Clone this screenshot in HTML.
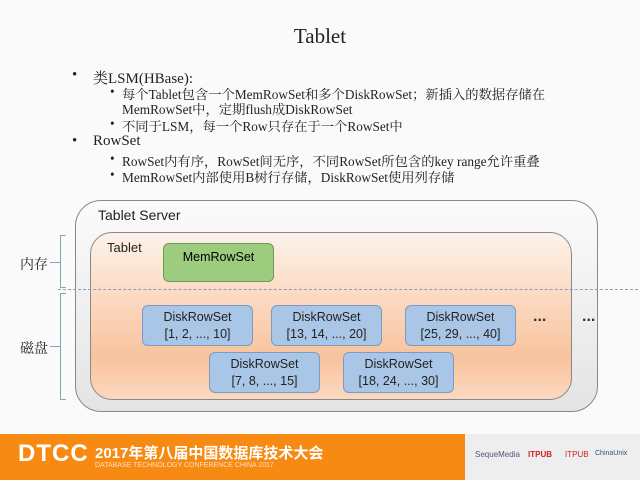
<!DOCTYPE html>
<html><head><meta charset="utf-8"><style>
body{margin:0;width:640px;height:480px;position:relative;overflow:hidden;background:#fafafa;font-family:"Liberation Serif","Noto Serif CJK SC",serif;}
.a{position:absolute;white-space:nowrap;color:#222;}
.l1{font-size:15px;}
.l2{font-size:13.3px;}
.s{font-family:"Liberation Sans","Noto Sans CJK SC",sans-serif;}
.box{position:absolute;box-sizing:border-box;}
.d{position:absolute;box-sizing:border-box;background:#a9c6e6;border:1px solid #7a9cc4;border-radius:6px;width:111px;height:41px;font-family:"Liberation Sans",sans-serif;font-size:12.5px;text-align:center;line-height:17px;padding-top:3px;color:#222;}
</style></head><body>
<div class="a" style="left:0;width:640px;text-align:center;top:24px;font-size:21px;">Tablet</div>
<div class="a l1" style="left:72px;top:67px">•</div><div class="a l1" style="left:93px;top:67px">类LSM(HBase):</div>
<div class="a l2" style="left:110px;top:84px">•</div><div class="a l2" style="left:122px;top:84px">每个Tablet包含一个MemRowSet和多个DiskRowSet；新插入的数据存储在</div>
<div class="a l2" style="left:122px;top:99px">MemRowSet中，定期flush成DiskRowSet</div>
<div class="a l2" style="left:110px;top:116px">•</div><div class="a l2" style="left:122px;top:116px">不同于LSM，每一个Row只存在于一个RowSet中</div>
<div class="a l1" style="left:72px;top:133px">•</div><div class="a l1" style="left:93px;top:133px">RowSet</div>
<div class="a l2" style="left:110px;top:151px">•</div><div class="a l2" style="left:122px;top:151px">RowSet内有序，RowSet间无序，不同RowSet所包含的key range允许重叠</div>
<div class="a l2" style="left:110px;top:167px">•</div><div class="a l2" style="left:122px;top:167px">MemRowSet内部使用B树行存储，DiskRowSet使用列存储</div>

<div class="box" style="left:75px;top:200px;width:523px;height:212px;border:1px solid #888;border-radius:26px;background:linear-gradient(#fbfbfb,#e4e4e4);"></div>
<div class="a s" style="left:98px;top:207px;font-size:14px;">Tablet Server</div>
<div class="box" style="left:90px;top:232px;width:482px;height:168px;border:1px solid #888;border-radius:22px;background:linear-gradient(#fdf2ea 0%,#fbd9c0 40%,#f8c39e 75%,#fbd8bf 100%);"></div>
<div class="a s" style="left:107px;top:240px;font-size:13px;">Tablet</div>
<div class="box" style="left:163px;top:243px;width:111px;height:39px;background:#9dcc7e;border:1px solid #6f9a55;border-radius:6px;font-family:'Liberation Sans',sans-serif;font-size:12.5px;text-align:center;padding-top:6px;">MemRowSet</div>
<div class="box" style="left:58px;top:289px;width:580px;border-top:1px dashed #8aa0b8;"></div>
<div class="d" style="left:142px;top:305px">DiskRowSet<br>[1, 2, ..., 10]</div>
<div class="d" style="left:271px;top:305px">DiskRowSet<br>[13, 14, ..., 20]</div>
<div class="d" style="left:405px;top:305px">DiskRowSet<br>[25, 29, ..., 40]</div>
<div class="d" style="left:209px;top:352px">DiskRowSet<br>[7, 8, ..., 15]</div>
<div class="d" style="left:343px;top:352px">DiskRowSet<br>[18, 24, ..., 30]</div>
<div class="a s" style="left:533px;top:308px;font-size:16px;font-weight:bold;color:#333">...</div>
<div class="a s" style="left:582px;top:308px;font-size:16px;font-weight:bold;color:#333">...</div>
<div class="box" style="left:60px;top:235px;width:6px;height:53px;border:1px solid #7fa8b0;border-right:none;"></div>
<div class="box" style="left:60px;top:293px;width:6px;height:107px;border:1px solid #7fa8b0;border-right:none;"></div>
<div class="box" style="left:50px;top:262px;width:10px;border-top:1px solid #7fa8b0;"></div>
<div class="box" style="left:50px;top:346px;width:10px;border-top:1px solid #7fa8b0;"></div>
<div class="a" style="left:20px;top:254px;font-size:14px;">内存</div>
<div class="a" style="left:20px;top:338px;font-size:14px;">磁盘</div>

<div class="box" style="left:0;top:434px;width:465px;height:46px;background:#f78a12;"></div>
<div class="box" style="left:465px;top:434px;width:175px;height:46px;background:#eeeeee;"></div>
<div class="a s" style="left:18px;top:440px;font-size:24px;font-weight:bold;color:#fff;letter-spacing:1px;">DTCC</div>
<div class="a s" style="left:95px;top:442px;font-size:15px;font-weight:bold;color:#fff;">2017年第八届中国数据库技术大会</div>
<div class="a s" style="left:95px;top:462px;font-size:7px;color:#fde0c0;">DATABASE TECHNOLOGY CONFERENCE CHINA 2017</div>
<div class="a s" style="left:475px;top:450px;font-size:8px;color:#557;">SequeMedia</div>
<div class="a s" style="left:528px;top:450px;font-size:8px;color:#c22;font-weight:bold;">ITPUB</div>
<div class="a s" style="left:565px;top:450px;font-size:8px;color:#c22;">ITPUB</div>
<div class="a s" style="left:595px;top:450px;font-size:7px;color:#357;">ChinaUnix</div>
</body></html>
